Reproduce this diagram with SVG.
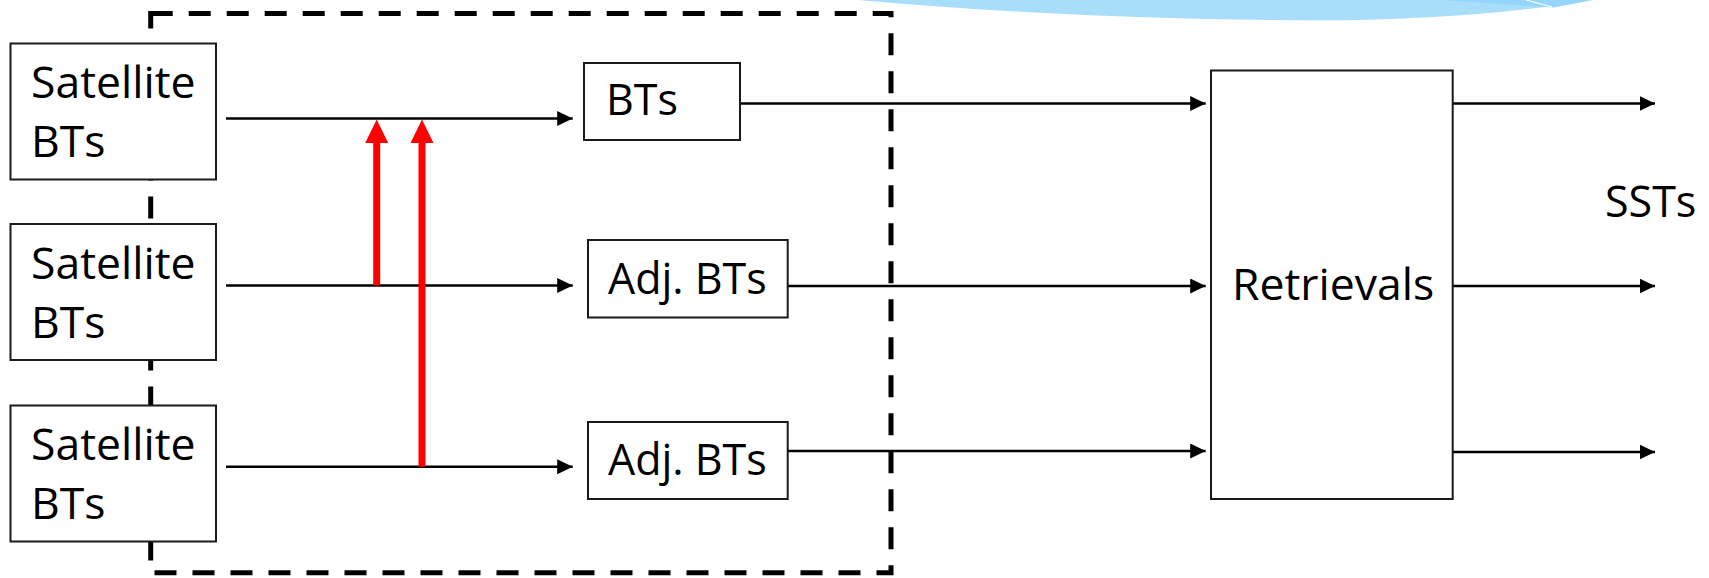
<svg xmlns="http://www.w3.org/2000/svg" width="1709" height="578" viewBox="0 0 1709 578">
<style>
.box{fill:#fff;stroke:#1a1a1a;stroke-width:2}
.lbl{font-family:"Open Sans","Liberation Sans",sans-serif;font-size:43px;fill:#000}
.big{font-size:44.5px}
.ln{stroke:#000;stroke-width:2.5;fill:none;marker-end:url(#ah)}
.red{stroke:#ff0000;stroke-width:7;fill:none}
</style>
<defs>
<marker id="ah" markerUnits="userSpaceOnUse" markerWidth="16" markerHeight="16" refX="15.5" refY="7.5" orient="auto">
<path d="M0,0 L15.5,7.5 L0,15 Z" fill="#000"/>
</marker>
</defs>
<rect width="1709" height="578" fill="#fff"/>
<g id="decor">
<path d="M858,0 Q1080,20 1330,20.5 Q1480,19 1592,0 Z" fill="#a9defb"/>
<path d="M1440,0 L1553,7.5 Q1574,4 1592,0 Z" fill="#96d5fb"/>
<path d="M1526,0 L1552,7" stroke="#fff" stroke-width="1.2"/>
</g>
<g id="frame">
<path d="M150.7,13.5 H891 V572.7 H150.7 Z" fill="none" stroke="#000" stroke-width="5" stroke-dasharray="22 16"/>
</g>
<g id="connectors">
<line class="ln" x1="226" y1="118.5" x2="572.7" y2="118.5"/>
<line class="ln" x1="226" y1="285.5" x2="572.7" y2="285.5"/>
<line class="ln" x1="226" y1="466.7" x2="572.7" y2="466.7"/>
<line class="ln" x1="740" y1="103.5" x2="1205.7" y2="103.5"/>
<line class="ln" x1="787.7" y1="286" x2="1205.7" y2="286"/>
<line class="ln" x1="787.7" y1="451" x2="1205.7" y2="451"/>
<line class="ln" x1="1453" y1="103.5" x2="1655" y2="103.5"/>
<line class="ln" x1="1453" y1="286" x2="1655" y2="286"/>
<line class="ln" x1="1453" y1="452" x2="1655" y2="452"/>
<g id="red-arrows">
<line class="red" x1="376.7" y1="285.5" x2="376.7" y2="140"/>
<path d="M376.7,119.5 L388.2,143 L365.2,143 Z" fill="#ff0000"/>
<line class="red" x1="422" y1="466.7" x2="422" y2="140"/>
<path d="M422,119.5 L433.5,143 L410.5,143 Z" fill="#ff0000"/>
</g>
</g>
<g id="sat1">
<rect class="box" x="10.5" y="43.5" width="205.5" height="136"/>
<text class="lbl big" x="31" y="98">Satellite</text>
<text class="lbl big" x="31" y="157">BTs</text>
</g>
<g id="sat2">
<rect class="box" x="10.5" y="224" width="205.5" height="136"/>
<text class="lbl big" x="31" y="278.5">Satellite</text>
<text class="lbl big" x="31" y="337.5">BTs</text>
</g>
<g id="sat3">
<rect class="box" x="10.5" y="405.5" width="205.5" height="136"/>
<text class="lbl big" x="31" y="460">Satellite</text>
<text class="lbl big" x="31" y="519">BTs</text>
</g>
<g id="bts">
<rect class="box" x="584" y="63" width="156" height="77"/>
<text class="lbl" x="606" y="115">BTs</text>
</g>
<g id="adj1">
<rect class="box" x="588" y="240" width="199.7" height="77.5"/>
<text class="lbl" x="608" y="293.5">Adj. BTs</text>
</g>
<g id="adj2">
<rect class="box" x="588" y="422" width="199.7" height="77"/>
<text class="lbl" x="608" y="475">Adj. BTs</text>
</g>
<g id="retrievals">
<rect class="box" x="1211" y="70.5" width="241.7" height="428.5"/>
<text class="lbl big" x="1232" y="300">Retrievals</text>
</g>
<g id="ssts">
<text class="lbl" x="1605" y="217">SSTs</text>
</g>
</svg>
